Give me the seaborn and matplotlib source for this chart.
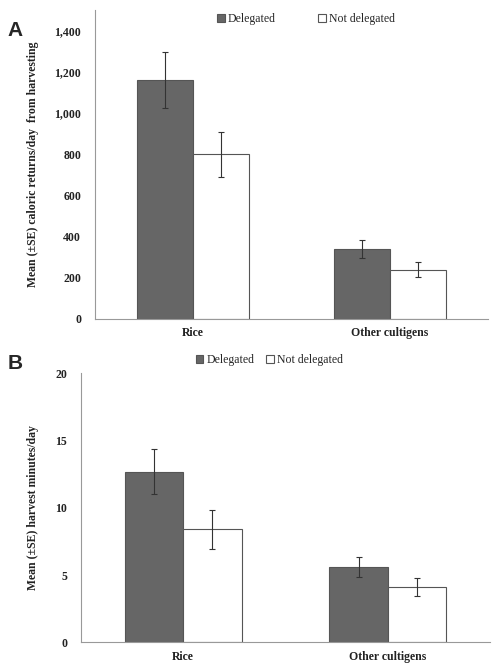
import numpy as np
import pandas as pd
import matplotlib.pyplot as plt
import matplotlib.ticker as mticker
import seaborn as sns

# ------------------------------------------------------------------
# DATA
# ------------------------------------------------------------------
crops = ["Rice", "Other cultigens"]
groups = ["Delegated", "Not delegated"]

cal_deleg = [1160, 340]
cal_deleg_se = [137, 42]
cal_notdel = [800, 240]
cal_notdel_se = [110, 35]

min_deleg = [12.7, 5.6]
min_deleg_se = [1.7, 0.76]
min_notdel = [8.4, 4.1]
min_notdel_se = [1.45, 0.68]

# ------------------------------------------------------------------
# SETTINGS
# ------------------------------------------------------------------
sns.set_theme(style="white")
plt.rcParams["font.family"] = ["Liberation Serif", "DejaVu Serif"]

DARK = "#666666"
EDGE = "#555555"
SPINE = "#999999"
palette = {"Delegated": DARK, "Not delegated": "white"}


def make_df(deleg, notdel):
    return pd.DataFrame({
        "crop": crops * 2,
        "status": [groups[0]] * 2 + [groups[1]] * 2,
        "value": list(deleg) + list(notdel),
    })


def draw_panel(ax, df, ses, ylim, ticks, fmt, ylabel, label_x, leg_xy, colspace):
    sns.barplot(data=df, x="crop", y="value", hue="status", order=crops,
                hue_order=groups, palette=palette, saturation=1, width=0.57,
                edgecolor=EDGE, linewidth=0.8, errorbar=None, ax=ax)
    # error bars at bar centres
    for cont, se in zip(ax.containers, ses):
        xs = [p.get_x() + p.get_width() / 2 for p in cont.patches]
        hs = [p.get_height() for p in cont.patches]
        ax.errorbar(xs, hs, yerr=se, fmt="none", ecolor="#333333",
                    elinewidth=0.8, capsize=2, capthick=0.8, zorder=5)

    ax.set_xlim(-0.5, 1.5)
    ax.set_ylim(*ylim)
    ax.set_yticks(ticks)
    ax.yaxis.set_major_formatter(mticker.FuncFormatter(fmt))
    ax.set_xticks([0, 1])
    ax.set_xticks([-0.5, 0.5, 1.5], minor=True)
    ax.tick_params(axis="x", which="major", length=0, pad=6)
    ax.tick_params(axis="x", which="minor", length=4, direction="out",
                   color=SPINE, width=0.8)
    ax.tick_params(axis="y", length=4, direction="out", color=SPINE,
                   width=0.8, pad=6)
    for lab in ax.get_xticklabels() + ax.get_yticklabels():
        lab.set_fontweight("bold")
        lab.set_fontsize(8.5)
        lab.set_color("#222222")
    for s in ["top", "right"]:
        ax.spines[s].set_visible(False)
    for s in ["left", "bottom"]:
        ax.spines[s].set_color(SPINE)
        ax.spines[s].set_linewidth(0.8)

    ax.set_xlabel("")
    ax.set_ylabel(ylabel, fontsize=8.5, fontweight="bold", color="#222222")
    ax.yaxis.set_label_coords(label_x, 0.5)

    handles, labels = ax.get_legend_handles_labels()
    ax.legend(handles, labels, loc="center", bbox_to_anchor=leg_xy, ncol=2,
              frameon=False, fontsize=8.5, handlelength=0.65,
              handleheight=0.65, handletextpad=0.25, columnspacing=colspace,
              borderaxespad=0)


fig = plt.figure(figsize=(4.98, 6.70), dpi=100)
ax_a = fig.add_axes([0.1908, 0.5239, 0.7892, 0.4611])
ax_b = fig.add_axes([0.1627, 0.0413, 0.8213, 0.4015])

draw_panel(ax_a, make_df(cal_deleg, cal_notdel), [cal_deleg_se, cal_notdel_se],
           (0, 1500), [0, 200, 400, 600, 800, 1000, 1200, 1400],
           lambda v, _: f"{v:,.0f}",
           "Mean (\u00b1SE) caloric returns/day  from harvesting",
           -0.142, (0.537, 0.971), 3.6)

draw_panel(ax_b, make_df(min_deleg, min_notdel), [min_deleg_se, min_notdel_se],
           (0, 20), [0, 5, 10, 15, 20],
           lambda v, _: f"{v:.0f}",
           "Mean (\u00b1SE) harvest minutes/day",
           -0.103, (0.46, 1.049), 1.0)

fig.text(7 / 498, 1 - 36 / 670, "A", fontsize=15, fontweight="bold",
         family=["Liberation Sans", "DejaVu Sans"])
fig.text(8 / 498, 1 - 369 / 670, "B", fontsize=15, fontweight="bold",
         family=["Liberation Sans", "DejaVu Sans"])

fig.savefig("out.png", dpi=100)
plt.close(fig)
